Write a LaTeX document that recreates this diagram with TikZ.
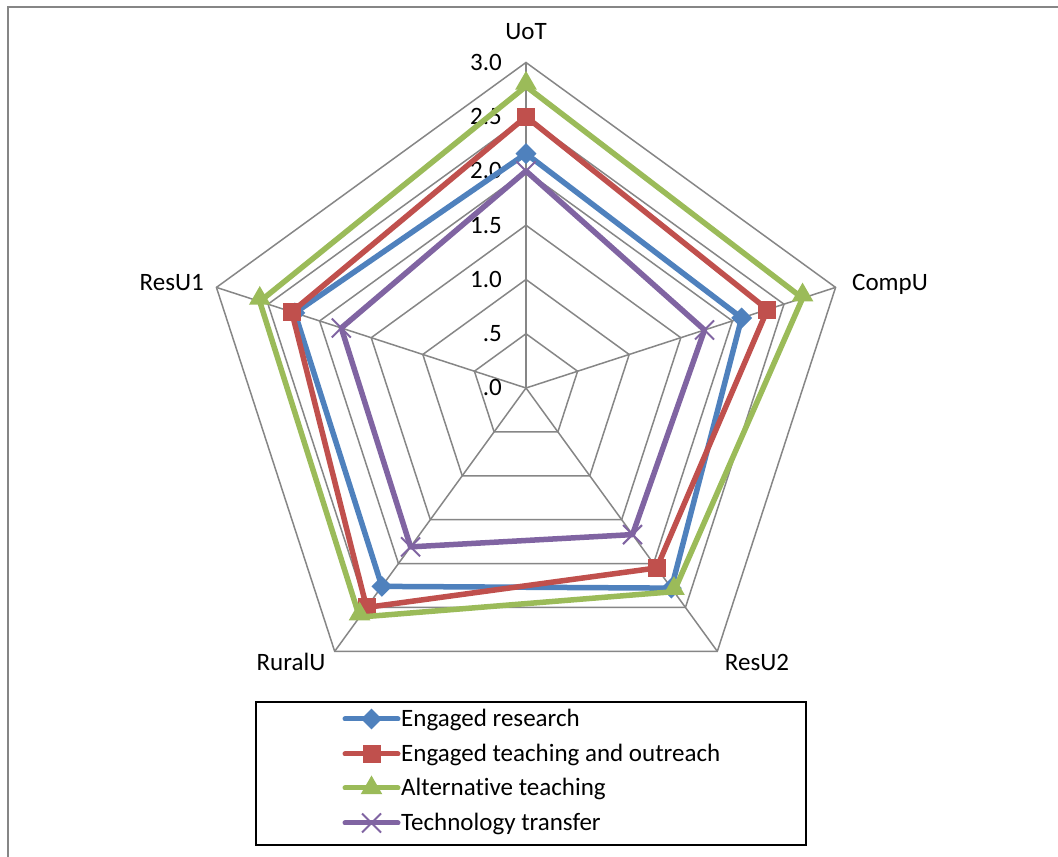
\documentclass[tikz,border=0pt]{standalone}
\usepackage{fontspec}
\setmainfont{Carlito}[Ligatures=NoCommon]
\usetikzlibrary{shapes.geometric,shapes.misc}
\definecolor{gridc}{RGB}{134,134,134}
\definecolor{serA}{RGB}{79,129,189}
\definecolor{serB}{RGB}{192,80,77}
\definecolor{serC}{RGB}{155,187,89}
\definecolor{serD}{RGB}{128,100,162}
\begin{document}
\begin{tikzpicture}[x=1pt,y=1pt,
  lbl/.style={font=\fontsize{25}{29}\selectfont, inner sep=0pt, text=black},
  gridline/.style={draw=gridc, line width=1.5pt},
  serline/.style={line width=5.5pt, line join=round},
  mkA/.style={diamond, fill=serA, minimum width=21pt, minimum height=21pt, inner sep=0pt},
  mkB/.style={rectangle, fill=serB, minimum size=18pt, inner sep=0pt},
  mkC/.style={regular polygon, regular polygon sides=3, fill=serC, minimum size=25pt, inner sep=0pt},
  mkD/.style={cross out, draw=serD, line width=2pt, minimum size=17pt, inner sep=0pt},
  legbox/.style={draw=black, line width=1.5pt}]
\useasboundingbox (0,0) rectangle (1058,857);
\fill[white] (0,0) rectangle (1058,857);
% outer frame
\draw[gridc, line width=2.2pt] (8,0) -- (8,850) -- (1058,850);

\begin{scope}[shift={(526,469)}]
\def\U{108.5}
\coordinate (O) at (0,0);
% grid rings
\foreach \r in {0.5,1,1.5,2,2.5,3}{
  \draw[gridline] (90:{\r*\U}) -- (18:{\r*\U}) -- (-54:{\r*\U}) -- (-126:{\r*\U}) -- (162:{\r*\U}) -- cycle;
}
\foreach \a/\n in {90/1,18/2,-54/3,-126/4,162/5}{
  \coordinate (V\n) at (\a:{3*\U});
  \draw[gridline] (O) -- (V\n);
}
% tick labels
\foreach \r/\t in {0/.0,0.5/.5,1/1.0,1.5/1.5,2/2.0,2.5/2.5,3/3.0}{
  \node[lbl, anchor=base east] (tick\r) at (-24,{\r*\U-8}) {\t};
}
% axis labels
\node[lbl, anchor=base] (labUoT) at (0,{388-40}) {UoT};
\node[lbl, anchor=base west] (labCompU) at (326,{105-8}) {CompU};
\node[lbl, anchor=base] (labResU2) at (231,{-275-8}) {ResU2};
\node[lbl, anchor=base] (labRuralU) at (-235,{-275-8}) {RuralU};
\node[lbl, anchor=base east] (labResU1) at (-322,{105-8}) {ResU1};

% series data
\def\series#1#2#3#4#5#6{%
  \coordinate (#1a) at (90:{#2*\U});
  \coordinate (#1b) at (18:{#3*\U});
  \coordinate (#1c) at (-54:{#4*\U});
  \coordinate (#1d) at (-126:{#5*\U});
  \coordinate (#1e) at (162:{#6*\U});
}
\series{A}{2.16}{2.09}{2.28}{2.26}{2.24}
\series{B}{2.50}{2.34}{2.05}{2.50}{2.27}
\series{C}{2.78}{2.68}{2.32}{2.61}{2.58}
\series{D}{2.00}{1.73}{1.67}{1.81}{1.79}

\draw[serline, serA] (Aa) -- (Ab) -- (Ac) -- (Ad) -- (Ae) -- cycle;
\foreach \p in {a,b,c,d,e}{\node[mkA] (mA\p) at (A\p) {};}
\draw[serline, serB] (Ba) -- (Bb) -- (Bc) -- (Bd) -- (Be) -- cycle;
\foreach \p in {a,b,c,d,e}{\node[mkB] (mB\p) at (B\p) {};}
\draw[serline, serC] (Ca) -- (Cb) -- (Cc) -- (Cd) -- (Ce) -- cycle;
\foreach \p in {a,b,c,d,e}{\node[mkC, yshift=3pt] (mC\p) at (C\p) {};}
\draw[serline, serD] (Da) -- (Db) -- (Dc) -- (Dd) -- (De) -- cycle;
\foreach \p in {a,b,c,d,e}{\node[mkD] (mD\p) at (D\p) {};}
\end{scope}

% legend
\draw[legbox] (256,12) rectangle (806,155);
\foreach \y/\c/\m/\t/\n in {138/serA/mkA/Engaged research/1,103/serB/mkB/Engaged teaching and outreach/2,69/serC/mkC/Alternative teaching/3,34/serD/mkD/Technology transfer/4}{
  \coordinate (L\n s) at (345,\y);
  \coordinate (L\n e) at (398,\y);
  \draw[\c, line width=5pt, line cap=round] (L\n s) -- (L\n e);
  \node[\m] (LM\n) at (371.5,\y) {};
  \node[lbl, anchor=base west] (LT\n) at (401,{\y-8}) {\t};
}
\end{tikzpicture}
\end{document}
